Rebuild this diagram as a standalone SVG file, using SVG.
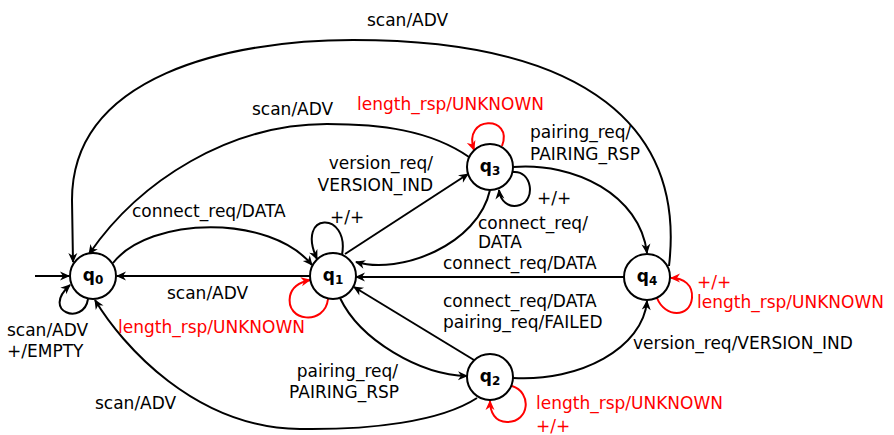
<svg xmlns="http://www.w3.org/2000/svg" width="894" height="435" viewBox="0 0 894 435">
<style>
.n{fill:#fff;stroke:#000;stroke-width:2}
.e{fill:none;stroke:#000;stroke-width:2;marker-end:url(#ah)}
.r{fill:none;stroke:#f00;stroke-width:2;marker-end:url(#ahr)}
.t{font-family:"DejaVu Sans",sans-serif;font-size:17px;fill:#000}
.tr{font-family:"DejaVu Sans",sans-serif;font-size:17px;fill:#f00}
.q{font-family:"DejaVu Sans",sans-serif;font-size:17px;font-weight:bold;fill:#000}
</style>
<defs>
<marker id="ah" viewBox="-11 -5 12 10" refX="-1" refY="0" markerWidth="12" markerHeight="10" markerUnits="userSpaceOnUse" orient="auto"><path d="M-10,-4.5 L0,0 L-10,4.5 L-7,0 Z" fill="#000"/></marker>
<marker id="ahr" viewBox="-11 -5 12 10" refX="-1" refY="0" markerWidth="12" markerHeight="10" markerUnits="userSpaceOnUse" orient="auto"><path d="M-10,-4.5 L0,0 L-10,4.5 L-7,0 Z" fill="#f00"/></marker>
</defs>
<g id="connectors">
<path class="e" d="M35,276 L69,276"/>
<path class="e" d="M88,299 C84,326 40,312 70,285"/>
<path class="e" d="M113,263 C150,216 270,214 312,265"/>
<path class="e" d="M310,276 L117,276"/>
<path class="e" d="M342,255 C350,211 295,211 317,259"/>
<path class="r" d="M328,299 C325,326 285,322 290,296 C292,287 300,282 310,280"/>
<path class="e" d="M345,254 L468,174"/>
<path class="e" d="M490,190 C478,245 400,275 356,262"/>
<path class="r" d="M502,146 C514,115 462,115 474,150"/>
<path class="e" d="M513,172 C532,170 536,200 520,205 C508,209 500,200 499,190"/>
<path class="e" d="M513,167 C575,162 640,195 647,253"/>
<path class="e" d="M469,157 C430,130 380,124 327,124 C230,124 140,180 89,254"/>
<path class="e" d="M669,266 C685,130 590,40 353,40 C230,40 72,75 72,200 L73,262"/>
<path class="e" d="M624,277 L356,277"/>
<path class="e" d="M474,360 L354,287"/>
<path class="e" d="M340,298 C360,340 420,375 467,376"/>
<path class="e" d="M477,398 C440,422 370,430 300,429 C195,428 122,345 95,300"/>
<path class="e" d="M513,378 C580,382 643,348 647,301"/>
<path class="r" d="M512,386 C532,392 530,422 507,422 C495,422 490,412 490,401"/>
<path class="r" d="M657,298 C665,318 690,318 692,298 C693,285 684,278 671,278"/>
</g>
<g id="q0"><circle class="n" cx="93" cy="276" r="23"/><text class="q" x="93" y="281" text-anchor="middle">q<tspan font-size="12" dy="3">0</tspan></text></g>
<g id="q1"><circle class="n" cx="333" cy="276" r="23"/><text class="q" x="333" y="281" text-anchor="middle">q<tspan font-size="12" dy="3">1</tspan></text></g>
<g id="q2"><circle class="n" cx="490" cy="377" r="23"/><text class="q" x="490" y="382" text-anchor="middle">q<tspan font-size="12" dy="3">2</tspan></text></g>
<g id="q3"><circle class="n" cx="490" cy="167" r="23"/><text class="q" x="490" y="172" text-anchor="middle">q<tspan font-size="12" dy="3">3</tspan></text></g>
<g id="q4"><circle class="n" cx="647" cy="277" r="23"/><text class="q" x="647" y="282" text-anchor="middle">q<tspan font-size="12" dy="3">4</tspan></text></g>
<g id="labels">
<text class="t" x="367" y="26">scan/ADV</text>
<text class="t" x="252" y="115">scan/ADV</text>
<text class="tr" x="357" y="110">length_rsp/UNKNOWN</text>
<text class="t" x="433" y="169" text-anchor="end">version_req/</text>
<text class="t" x="433" y="191" text-anchor="end">VERSION_IND</text>
<text class="t" x="132" y="217">connect_req/DATA</text>
<text class="t" x="330" y="223">+/+</text>
<text class="t" x="530" y="138">pairing_req/</text>
<text class="t" x="530" y="160">PAIRING_RSP</text>
<text class="t" x="537" y="204">+/+</text>
<text class="t" x="478" y="229">connect_req/</text>
<text class="t" x="478" y="248">DATA</text>
<text class="t" x="443" y="269">connect_req/DATA</text>
<text class="t" x="167" y="299">scan/ADV</text>
<text class="tr" x="118" y="333">length_rsp/UNKNOWN</text>
<text class="t" x="7" y="336">scan/ADV</text>
<text class="t" x="7" y="357">+/EMPTY</text>
<text class="t" x="443" y="307">connect_req/DATA</text>
<text class="t" x="443" y="328">pairing_req/FAILED</text>
<text class="t" x="633" y="349">version_req/VERSION_IND</text>
<text class="tr" x="697" y="288">+/+</text>
<text class="tr" x="697" y="308">length_rsp/UNKNOWN</text>
<text class="t" x="398" y="377" text-anchor="end">pairing_req/</text>
<text class="t" x="399" y="398" text-anchor="end">PAIRING_RSP</text>
<text class="t" x="95" y="409">scan/ADV</text>
<text class="tr" x="536" y="409">length_rsp/UNKNOWN</text>
<text class="tr" x="536" y="432">+/+</text>
</g>
</svg>
